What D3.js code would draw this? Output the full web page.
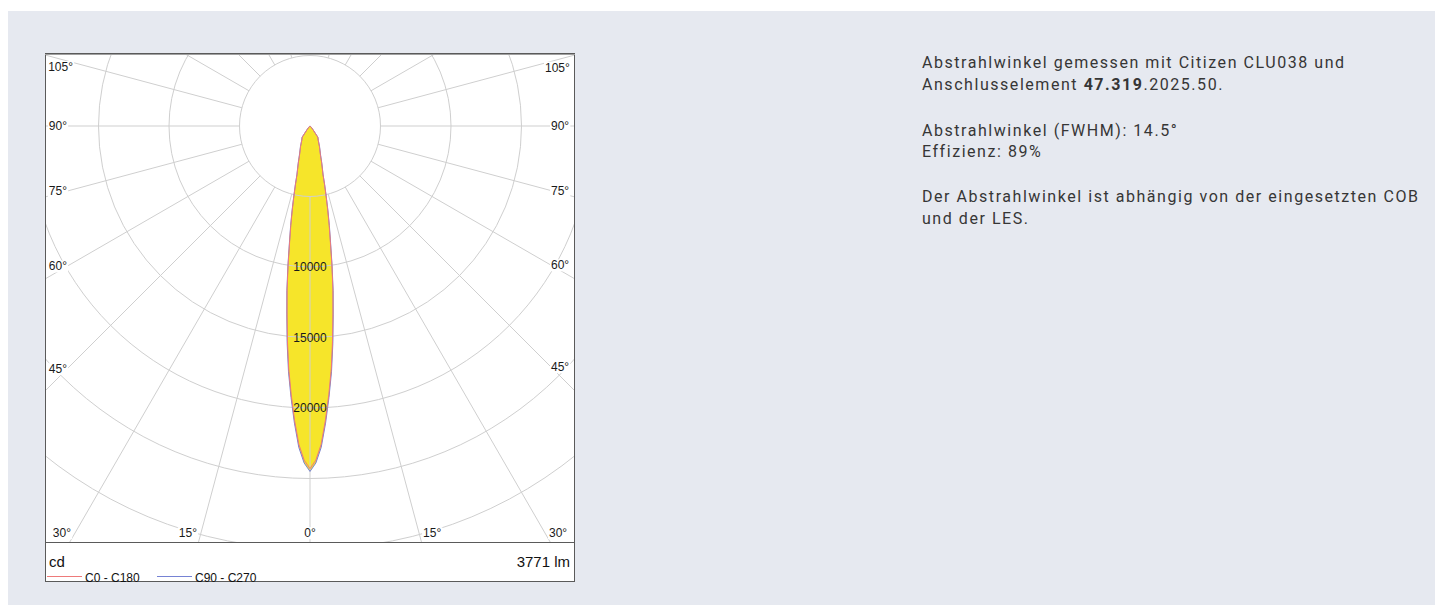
<!DOCTYPE html>
<html>
<head>
<meta charset="utf-8">
<script src="https://cdn.jsdelivr.net/npm/d3@7"></script>
<style>
  body { margin: 0; background: #fff; }
  svg { display: block; }
</style>
</head>
<body>
<div id="container"></div>
<script>
/* DATA */
// gamma angles (deg, 0 = straight down) and luminous intensity in cd
const angles  = [0, 1, 2, 3, 4, 5, 6, 7, 8, 9, 10, 11, 12, 13, 14, 15, 17.5, 20, 25, 30, 35, 40, 45, 50, 60, 70, 90, 180];
const c0c180  = [24300, 23700, 22600, 20900, 19100, 17300, 15300, 13350, 11650, 9900, 8300, 7100, 6000, 5050, 4250, 3550, 2750, 2150, 1570, 1160, 960, 290, 95, 38, 10, 0, 0, 0];
const c90c270 = [24500, 23900, 22800, 21100, 19300, 17500, 15500, 13500, 11800, 10000, 8400, 7200, 6100, 5100, 4300, 3600, 2800, 2200, 1600, 1180, 980, 300, 100, 40, 10, 0, 0, 0];
const seriesNames = ["C0 - C180", "C90 - C270"];
const ringValues = [5000, 10000, 15000, 20000, 25000, 30000, 35000];
const ringLabels = [10000, 15000, 20000];
const spokeAngles = d3.range(0, 181, 15);
const angleLabels = [0, 15, 30, 45, 60, 75, 90, 105];
const unitText = "cd";
const fluxText = "3771 lm";
const notes = [
  [["Abstrahlwinkel gemessen mit Citizen CLU038 und", false]],
  [["Anschlusselement ", false], ["47.319", true], [".2025.50.", false]],
  null,
  [["Abstrahlwinkel (FWHM): 14.5°", false]],
  [["Effizienz: 89%", false]],
  null,
  [["Der Abstrahlwinkel ist abhängig von der eingesetzten COB", false]],
  [["und der LES.", false]]
];

/* CONSTANTS */
const W = 1435, H = 606;
const box = { x: 45, y: 53, w: 530, h: 529, legendTop: 542 };
const cx = 310, cy = 126;
const inner = { left: 67, right: 551, bottom: 533 };
const gridColor = "#cfcfcf";
const colors = { "C0 - C180": "#ee7a7a", "C90 - C270": "#7683d4" };
const fillColor = "#f6e52a";
const rad = Math.PI / 180;

const svg = d3.select("#container").append("svg")
  .attr("width", W).attr("height", H);

// page panel
svg.append("rect").attr("x", 8).attr("y", 11).attr("width", W - 8).attr("height", H - 12)
  .attr("fill", "#e6e9f0");

// chart box
svg.append("rect")
  .attr("x", box.x + 0.5).attr("y", box.y + 0.5)
  .attr("width", box.w - 1).attr("height", box.h - 1)
  .attr("fill", "#fff").attr("stroke", "#5a5a5a");
svg.append("line")
  .attr("x1", box.x).attr("x2", box.x + box.w)
  .attr("y1", box.y + 1.5).attr("y2", box.y + 1.5)
  .attr("stroke", "#a0a0a0");

svg.append("clipPath").attr("id", "plotClip")
  .append("rect").attr("x", box.x + 1).attr("y", box.y + 2)
  .attr("width", box.w - 2).attr("height", box.legendTop - box.y - 2);

const rScale = d3.scaleLinear().domain([0, 5000]).range([0, 70.5]);

const plot = svg.append("g").attr("clip-path", "url(#plotClip)");
const g = plot.append("g").attr("transform", `translate(${cx},${cy})`);

// build the closed curve for one series: left half then right half
function curvePoints(vals) {
  const left = angles.map((a, i) => ({ a: Math.PI + a * rad, v: vals[i] })).reverse();
  const right = angles.map((a, i) => ({ a: Math.PI - a * rad, v: vals[i] }));
  return left.concat(right.slice(1));
}
const radial = d3.lineRadial()
  .angle(d => d.a)
  .radius(d => rScale(d.v))
  .curve(d3.curveLinearClosed);

const series = [
  { name: seriesNames[0], values: c0c180 },
  { name: seriesNames[1], values: c90c270 }
];

// fill
g.append("path")
  .attr("d", radial(curvePoints(c90c270)))
  .attr("fill", fillColor);

// grid rings
g.selectAll("circle.ring")
  .data(ringValues)
  .join("circle")
  .attr("class", "ring")
  .attr("r", d => rScale(d))
  .attr("fill", "none")
  .attr("stroke", gridColor)
  .attr("stroke-width", 1);

// spokes (both sides)
const spokes = [];
spokeAngles.forEach(a => {
  spokes.push({ a: a, s: 1 });
  if (a !== 0 && a !== 180) spokes.push({ a: a, s: -1 });
});
g.selectAll("line.spoke")
  .data(spokes)
  .join("line")
  .attr("class", "spoke")
  .attr("x1", d => d.s * rScale(5000) * Math.sin(d.a * rad))
  .attr("y1", d => rScale(5000) * Math.cos(d.a * rad))
  .attr("x2", d => d.s * 700 * Math.sin(d.a * rad))
  .attr("y2", d => 700 * Math.cos(d.a * rad))
  .attr("stroke", gridColor)
  .attr("stroke-width", 1);

// curve outlines
g.selectAll("path.series")
  .data(series.slice().reverse())
  .join("path")
  .attr("class", "series")
  .attr("d", d => radial(curvePoints(d.values)))
  .attr("fill", "none")
  .attr("stroke", d => colors[d.name])
  .attr("stroke-width", 1);

// ring value labels
g.selectAll("text.ringLabel")
  .data(ringLabels)
  .join("text")
  .attr("class", "ringLabel")
  .attr("x", 0)
  .attr("y", d => rScale(d))
  .attr("dy", "0.35em")
  .attr("text-anchor", "middle")
  .attr("font-family", "Liberation Sans, Arial, sans-serif")
  .attr("font-size", 12)
  .attr("fill", "#1a1a1a")
  .text(d => d);

// angle labels where the spokes meet the inner frame
function labelPos(a, s) {
  const sx = Math.sin(a * rad), cyv = Math.cos(a * rad);
  const tx = sx > 1e-6 ? (s < 0 ? cx - inner.left : inner.right - cx) / sx : Infinity;
  const ty = cyv > 1e-6 ? (inner.bottom - cy) / cyv : Infinity;
  const t = Math.min(tx, ty);
  let x = cx + s * t * sx, y = cy + t * cyv, anchor;
  if (t === ty) {
    if (a === 0) anchor = "middle";
    else { anchor = s < 0 ? "end" : "start"; x += s < 0 ? -4 : 4; }
  } else {
    anchor = s < 0 ? "end" : "start";
    if (a > 90) { x += s < 0 ? 6 : -6; y += 6; }
  }
  return { x, y, anchor };
}
const labelData = [];
angleLabels.forEach(a => {
  labelData.push({ a: a, s: -1 });
  if (a !== 0) labelData.push({ a: a, s: 1 });
});
const lab = svg.append("g").selectAll("g.alab")
  .data(labelData)
  .join("g")
  .attr("class", "alab");
lab.append("rect").attr("fill", "#fff");
lab.append("text")
  .attr("x", d => labelPos(d.a, d.s).x)
  .attr("y", d => labelPos(d.a, d.s).y)
  .attr("dy", "0.35em")
  .attr("text-anchor", d => labelPos(d.a, d.s).anchor)
  .attr("font-family", "Liberation Sans, Arial, sans-serif")
  .attr("font-size", 12)
  .attr("fill", "#1a1a1a")
  .text(d => d.a + "°");
lab.each(function() {
  const t = d3.select(this).select("text").node().getBBox();
  d3.select(this).select("rect")
    .attr("x", t.x - 1).attr("y", t.y + 1)
    .attr("width", t.width + 2).attr("height", t.height - 2);
});

// legend area
svg.append("line")
  .attr("x1", box.x).attr("x2", box.x + box.w)
  .attr("y1", box.legendTop + 0.5).attr("y2", box.legendTop + 0.5)
  .attr("stroke", "#5a5a5a");
svg.append("text")
  .attr("x", 49).attr("y", 567)
  .attr("font-family", "Liberation Sans, Arial, sans-serif")
  .attr("font-size", 15).attr("fill", "#111")
  .text(unitText);
svg.append("text")
  .attr("x", 570).attr("y", 567)
  .attr("text-anchor", "end")
  .attr("font-family", "Liberation Sans, Arial, sans-serif")
  .attr("font-size", 15).attr("fill", "#111")
  .text(fluxText);

const legendX = d3.scaleOrdinal().domain(seriesNames).range([47, 157]);
const leg = svg.selectAll("g.legend")
  .data(seriesNames)
  .join("g")
  .attr("class", "legend")
  .attr("transform", d => `translate(${legendX(d)},0)`);
leg.append("line")
  .attr("x1", 0).attr("x2", 35)
  .attr("y1", 576.5).attr("y2", 576.5)
  .attr("stroke", d => colors[d]);
leg.append("text")
  .attr("x", 38).attr("y", 581.5)
  .attr("font-family", "Liberation Sans, Arial, sans-serif")
  .attr("font-size", 12).attr("fill", "#111")
  .text(d => d);

// notes on the right
const noteBaselines = [68, 90, null, 135.5, 157, null, 202, 223.5];
const noteG = svg.append("g")
  .attr("font-family", "Roboto, sans-serif")
  .attr("font-size", 16)
  .attr("fill", "#363636");
const noteTexts = [];
notes.forEach((line, i) => {
  if (!line) return;
  const t = noteG.append("text").attr("x", 922).attr("y", noteBaselines[i]);
  line.forEach(([str, bold]) => {
    t.append("tspan").attr("font-weight", bold ? 700 : 400).text(str);
  });
  noteTexts.push(t);
});
// fit letter spacing so the longest line spans like the reference
const longest = noteTexts[4];
const wNat = longest.node().getComputedTextLength();
const nChars = notes[6][0][0].length;
const ls = (496 - wNat) / (nChars - 1);
noteTexts.forEach(t => t.attr("letter-spacing", ls));
</script>
</body>
</html>
